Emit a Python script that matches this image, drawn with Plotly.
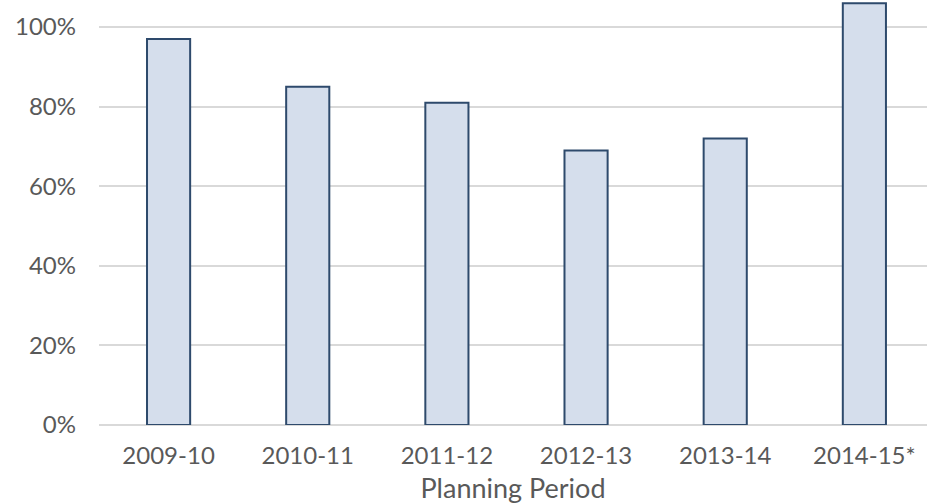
import plotly.graph_objects as go

# Share of planned target achieved in each planning period
periods = ["2009-10", "2010-11", "2011-12", "2012-13", "2013-14", "2014-15*"]
achieved_pct = [97, 85, 81, 69, 72, 106]
y_ticks = [0, 20, 40, 60, 80, 100]
y_tick_text = ["0%", "20%", "40%", "60%", "80%", "100%"]

text_color = "#595959"
font_family = "Lato, 'Open Sans', sans-serif"
font_size = 24

fig = go.Figure(
    go.Bar(
        x=periods,
        y=achieved_pct,
        marker=dict(color="#D5DEEC", line=dict(color="#2E4A6C", width=2)),
        width=0.31,
        cliponaxis=True,
    )
)

fig.update_layout(
    width=927,
    height=504,
    margin=dict(l=99, r=0, t=0, b=79),
    plot_bgcolor="white",
    paper_bgcolor="white",
    showlegend=False,
    font=dict(family=font_family, color=text_color, size=font_size),
)

fig.update_xaxes(
    type="category",
    range=[-0.5, 5.45],
    automargin=False,
    showgrid=False,
    showline=False,
    zeroline=False,
    ticks="",
    ticklabelstandoff=14,
    tickfont=dict(size=font_size, color=text_color),
    title=dict(text="Planning Period", font=dict(size=27, color=text_color), standoff=18),
)

fig.update_yaxes(
    range=[0, 106.8],
    tickvals=y_ticks,
    ticktext=y_tick_text,
    automargin=False,
    showgrid=True,
    gridcolor="#D9D9D9",
    gridwidth=1.5,
    zeroline=True,
    zerolinecolor="#D9D9D9",
    zerolinewidth=1.5,
    showline=False,
    ticks="",
    ticklabelstandoff=22,
    tickfont=dict(size=font_size, color=text_color),
)

fig.write_html("out.html")
